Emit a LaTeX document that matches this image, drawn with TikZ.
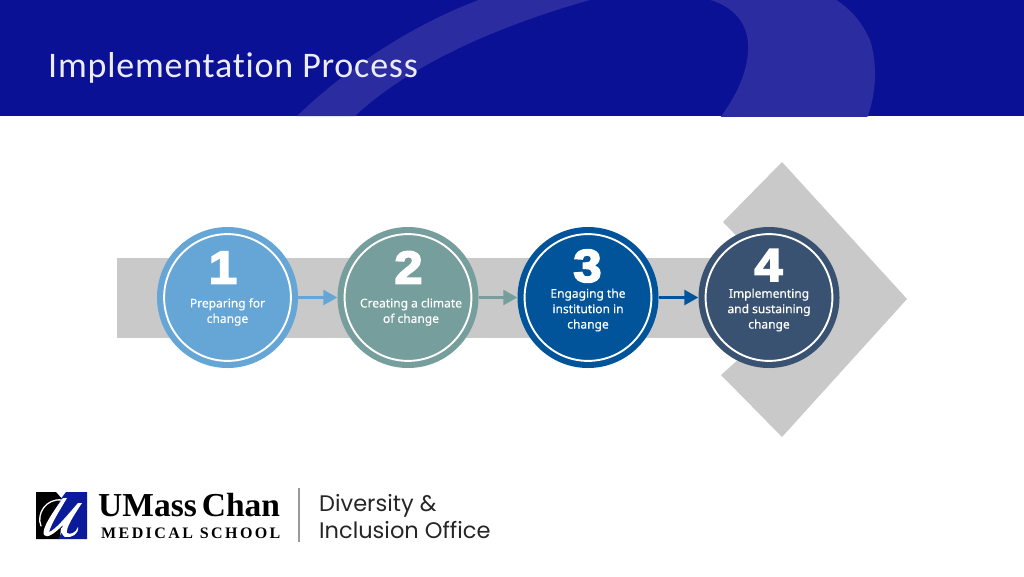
\documentclass[tikz,border=0pt]{standalone}
\usepackage{fontspec}
\setmainfont[Ligatures={NoCommon,NoRequired,NoContextual},LetterSpace=2.2]{Carlito}
\newfontfamily\lblfont[BoldFont={Noto Sans},BoldFeatures={FakeBold=0.5}]{Noto Sans}
\newfontfamily\numfont[BoldFont={Liberation Sans Bold},BoldFeatures={FakeBold=4,FakeStretch=1.1}]{Liberation Sans}
\newfontfamily\serifb{Liberation Serif Bold}
\newfontfamily\msfont[LetterSpace=15]{Liberation Serif Bold}
\newfontfamily\popfont{Poppins}
\definecolor{hdr}{HTML}{0A1195}
\definecolor{band}{HTML}{2A2CA0}
\definecolor{barg}{HTML}{C9C9C9}
\definecolor{cA}{HTML}{66A6D6}
\definecolor{cB}{HTML}{769E9C}
\definecolor{cC}{HTML}{01549A}
\definecolor{cD}{HTML}{3A5271}
\definecolor{umblue}{HTML}{0A1A9A}
\usetikzlibrary{arrows.meta}
\tikzset{
  x=1pt,y=-1pt,
  stepdisc/.style={circle,minimum size=141pt,inner sep=0pt,fill=#1,text=white},
  ringline/.style={draw=white,line width=1.9pt},
  numtxt/.style={text=white,font=\numfont\bfseries\fontsize{46}{46}\selectfont,inner sep=0pt},
  lbl/.style={text=white,align=center,inner sep=0pt,font=\lblfont\bfseries\fontsize{12}{15.4}\selectfont},
  conn/.style={draw=#1,line width=2.6pt,-{Triangle[length=14pt,width=15pt,fill=#1]},shorten >=0pt}
}
\begin{document}
\begin{tikzpicture}
\useasboundingbox (0,0) rectangle (1024,576);
\fill[white] (0,0) rectangle (1024,576);
% header
\fill[hdr] (0,0) rectangle (1024,116);
\begin{scope}
\clip (0,0) rectangle (1024,116);
\fill[band] (297,116) .. controls (345,70) and (410,25) .. (484,-2) -- (597,-2) .. controls (510,22) and (415,60) .. (355,116) -- cycle;
\fill[band] (703,-2) .. controls (735,5) and (750,25) .. (748,52) .. controls (746,78) and (733,100) .. (720,118) -- (867,118) .. controls (876,95) and (878,65) .. (870,40) .. controls (862,22) and (850,8) .. (833,-2) -- cycle;
\end{scope}
\node[anchor=base west,inner sep=0pt,text=white!92!hdr,font=\fontsize{36}{36}\selectfont] (title) at (48,77) {Implementation Process};
% chevron
\fill[barg] (117,258) rectangle (730,338);
\fill[barg] (723,222) -- (782,162) -- (907,299) -- (782,437) -- (721,375) -- (760,340) -- (760,260) -- cycle;
% discs
\node[stepdisc=cA] (s1) at (227.5,297.5) {};
\node[stepdisc=cB] (s2) at (408,297.5) {};
\node[stepdisc=cC] (s3) at (588,297.5) {};
\node[stepdisc=cD] (s4) at (769,297.5) {};
\foreach \n in {s1,s2,s3,s4} \draw[ringline] (\n) circle (63.4);
% numbers
\node[numtxt] (n1) at (223,267.5) {1};
\node[numtxt] (n2) at (408.5,267.5) {2};
\node[numtxt] (n3) at (587.5,266) {3};
\node[numtxt] (n4) at (768.5,265) {4};
% labels
\node[lbl] (l1) at (227.5,312) {Preparing for\\change};
\node[lbl] (l2) at (411,312) {Creating a climate\\of change};
\node[lbl] (l3) at (588,310) {Engaging the\\institution in\\change};
\node[lbl] (l4) at (769,310) {Implementing\\and sustaining\\change};
% connectors
\draw[conn=cA] (s1.east) -- (s2.west);
\draw[conn=cB] (s2.east) -- (s3.west);
\draw[conn=cC] (s3.east) -- (s4.west);
% logo
\fill[black] (36,492) -- (56,492) -- (63,500) -- (60,539) -- (36,539) -- cycle;
\fill[umblue] (66,492) -- (87,492) -- (87,539) -- (58,539) -- (66,526) -- (50,533) -- (46,528) -- (60,500) -- cycle;
\draw[white,line width=1.3pt,line cap=round] (41,526) .. controls (36,514) and (46,498) .. (62,500);
\fill[white] (63,498) -- (67,498) .. controls (60,510) and (52,522) .. (49,532) .. controls (55,530) and (65,518) .. (78,503) -- (82,503) .. controls (72,518) and (66,528) .. (67,533) .. controls (70,535) and (76,533) .. (78,527) .. controls (79,534) and (72,538) .. (65,537) .. controls (61,535) and (61,530) .. (63,525) .. controls (55,533) and (47,539) .. (44,535) .. controls (41,529) and (53,512) .. (63,498) -- cycle;
\node[anchor=base west,inner sep=0pt,font=\serifb\fontsize{33.5}{33.5}\selectfont] (um) at (98,516) {UMass\kern5pt Chan};
\node[anchor=base west,inner sep=0pt,font=\msfont\fontsize{16}{16}\selectfont,text=black] (ms) at (101,538) {MEDICAL\kern7pt SCHOOL};
\draw[draw=gray!80,line width=1.3pt] (299,488) -- (299,542);
\node[anchor=base west,inner sep=0pt,font=\popfont\fontsize{22.5}{22.5}\selectfont,text=black!85] (d1) at (319,511) {Diversity \&};
\node[anchor=base west,inner sep=0pt,font=\popfont\fontsize{22.5}{22.5}\selectfont,text=black!85] (d2) at (319,538) {Inclusion Office};
\end{tikzpicture}
\end{document}
